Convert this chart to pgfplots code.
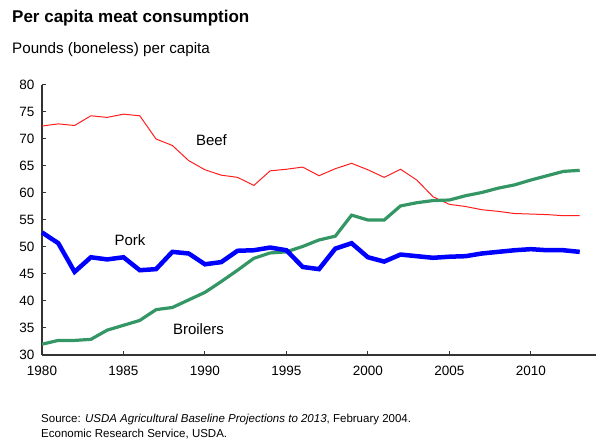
\documentclass[border=0pt]{standalone}
\usepackage{pgfplots}
\pgfplotsset{compat=1.18}
\usepackage{fontspec}
\setmainfont{Liberation Sans}
\definecolor{beefred}{RGB}{255,30,30}
\definecolor{porkblue}{RGB}{0,0,255}
\definecolor{broilgreen}{RGB}{52,150,100}
\pgfplotstableread{
year beef pork broilers
1980 72.4 52.7 32.0
1981 72.8 50.7 32.7
1982 72.5 45.4 32.7
1983 74.3 48.1 32.9
1984 74.0 47.7 34.6
1985 74.6 48.1 35.5
1986 74.3 45.7 36.4
1987 70.0 45.9 38.4
1988 68.8 49.1 38.8
1989 66.0 48.8 40.2
1990 64.3 46.8 41.6
1991 63.3 47.2 43.6
1992 62.9 49.3 45.7
1993 61.4 49.4 47.9
1994 64.1 49.9 48.9
1995 64.4 49.4 49.1
1996 64.8 46.3 50.1
1997 63.2 45.9 51.3
1998 64.5 49.7 52.0
1999 65.5 50.7 55.9
2000 64.3 48.1 55.0
2001 62.9 47.3 55.0
2002 64.4 48.6 57.6
2003 62.4 48.3 58.2
2004 59.3 48.0 58.6
2005 57.9 48.2 58.7
2006 57.5 48.3 59.5
2007 56.9 48.8 60.1
2008 56.6 49.1 60.9
2009 56.2 49.4 61.5
2010 56.1 49.6 62.4
2011 56.0 49.4 63.2
2012 55.8 49.4 64.0
2013 55.8 49.1 64.2
}\meat
\begin{document}
\begin{tikzpicture}[x=1pt,y=1pt]
\path[use as bounding box] (0,0) rectangle (596,444);
\node[anchor=west,inner sep=0pt,font=\fontsize{17}{19}\selectfont\bfseries] at (12,426) {Per capita meat consumption};
\node[anchor=west,inner sep=0pt,font=\fontsize{15.2}{17}\selectfont] at (12,394) {Pounds (boneless) per capita};
\begin{axis}[
  at={(42pt,89pt)}, anchor=south west,
  width=554pt, height=270pt, scale only axis,
  xmin=1980, xmax=2014, ymin=30, ymax=80,
  axis x line=bottom, axis y line=left,
  axis line style={-, black!80, line width=1.2pt},
  xtick={1980,1985,...,2010}, ytick={30,35,...,80},
  tick align=inside, major tick length=4pt,
  tick style={black!80, line width=1pt},
  /pgf/number format/1000 sep={},
  /pgf/number format/assume math mode=true,
  ticklabel style={font=\fontsize{13.5}{15}\selectfont},
  xticklabel style={yshift=-8pt},
  yticklabel style={xshift=-4pt},
  clip=false,
]
\addplot[beefred, line width=1pt] table[x=year,y=beef] {\meat};
\addplot[broilgreen, line width=3.2pt] table[x=year,y=broilers] {\meat};
\addplot[porkblue, line width=4.5pt] table[x=year,y=pork] {\meat};
\node[font=\fontsize{15}{17}\selectfont] at (axis cs:1990.4,69.7) {Beef};
\node[font=\fontsize{15}{17}\selectfont] at (axis cs:1985.4,51.2) {Pork};
\node[font=\fontsize{15}{17}\selectfont] at (axis cs:1989.6,34.8) {Broilers};
\end{axis}
\node[anchor=west,inner sep=0pt,font=\fontsize{11.5}{13}\selectfont] at (41,24) {Source: \textit{USDA Agricultural Baseline Projections to 2013}, February 2004.};
\node[anchor=west,inner sep=0pt,font=\fontsize{11.5}{13}\selectfont] at (41,10) {Economic Research Service, USDA.};
\end{tikzpicture}
\end{document}
